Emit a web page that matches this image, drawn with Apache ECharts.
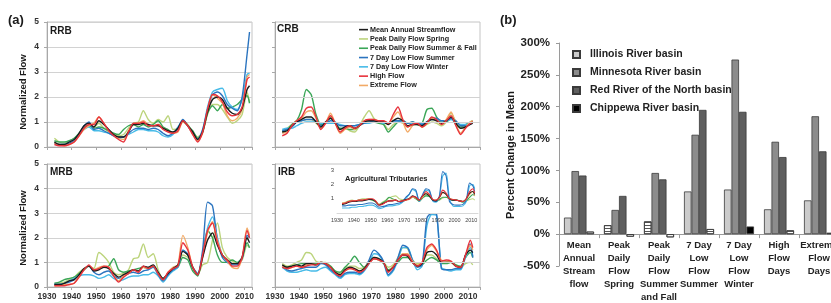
<!DOCTYPE html>
<html><head><meta charset="utf-8">
<script src="https://cdn.jsdelivr.net/npm/echarts@6/dist/echarts.min.js"></script>
<style>html,body{margin:0;padding:0;background:#fff}#c{width:831px;height:303px}</style>
</head><body><div id="c"></div>
<script>
const FONT = '"Liberation Sans",Arial,sans-serif';

// ---------- (a) time series ----------
const years = [1933,1935,1937,1939,1941,1943,1945,1947,1949,1951,1953,1955,1957,1959,1961,1963,1965,1967,1969,1971,1973,1975,1977,1979,1981,1983,1985,1987,1989,1991,1993,1995,1997,1999,2001,2003,2005,2007,2009,2011,2012];
const seriesNames = ['Mean Annual Streamflow','Peak Daily Flow Spring','Peak Daily Flow Summer & Fall','7 Day Low Flow Summer','7 Day Low Flow Winter','High Flow','Extreme Flow'];
const xTicks = [1930,1940,1950,1960,1970,1980,1990,2000,2010];
const panelTitles = ['RRB','CRB','MRB','IRB'];

// RRB
const rrbMean    = [0.2,0.1,0.1,0.2,0.3,0.55,0.85,0.95,0.8,1.05, 0.9,0.7,0.5,0.4,0.4,0.6,0.9,0.9,0.95,0.9, 0.85,0.85,0.75,0.65,0.6,0.75,1.05,0.85,0.6,0.3, 0.6,1.4,1.9,2.0,1.9,1.55,1.35,1.3,1.55,2.3, 2.45];
const rrbSpring  = [0.35,0.2,0.15,0.25,0.35,0.5,0.75,0.85,0.8,0.95, 0.75,0.6,0.5,0.45,0.5,0.75,0.95,1.0,1.45,1.1, 0.95,1.1,1.0,1.25,0.7,0.75,1.05,0.9,0.6,0.4, 0.6,1.3,1.7,1.7,1.5,1.2,0.95,1.05,1.3,2.2, 1.8];
const rrbSummer  = [0.25,0.2,0.2,0.25,0.35,0.55,0.8,0.85,0.75,0.8, 0.75,0.65,0.55,0.5,0.7,0.85,0.9,0.8,0.9,0.8, 0.9,1.05,0.8,0.7,0.55,0.75,1.05,0.85,0.65,0.35, 0.6,1.35,1.65,1.45,1.7,1.55,1.6,1.7,1.9,2.05, 1.75];
const rrbLowSum  = [0.15,0.1,0.1,0.15,0.25,0.5,0.85,1.0,0.7,0.75, 0.65,0.55,0.45,0.4,0.4,0.55,0.7,0.75,0.75,0.7, 0.75,0.7,0.55,0.45,0.55,0.75,1.1,0.85,0.55,0.3, 0.7,1.5,2.1,2.2,2.05,1.7,1.55,1.45,2.0,3.7, 4.6];
const rrbLowWin  = [0.15,0.1,0.1,0.2,0.3,0.5,0.7,0.8,0.65,0.65, 0.6,0.55,0.45,0.35,0.4,0.5,0.6,0.7,0.7,0.65, 0.65,0.6,0.45,0.4,0.5,0.8,1.05,0.85,0.55,0.3, 0.65,1.6,2.2,2.3,2.35,1.85,1.6,1.5,1.9,2.9, 2.95];
const rrbHigh    = [0.1,0.05,0.05,0.1,0.2,0.45,0.75,0.9,0.9,1.2, 0.95,0.65,0.45,0.3,0.2,0.6,0.95,0.95,1.0,0.85, 0.85,0.9,0.7,0.6,0.55,0.65,1.05,0.85,0.5,0.2, 0.6,1.5,2.1,2.05,1.8,1.4,1.25,1.3,1.6,2.7, 2.8];
const rrbExtreme = [0.15,0.1,0.05,0.1,0.2,0.45,0.7,0.85,0.95,1.2, 0.95,0.65,0.5,0.35,0.3,0.65,0.9,0.95,1.05,0.9, 0.85,0.9,0.75,0.65,0.55,0.6,1.0,0.85,0.5,0.25, 0.55,1.45,2.1,1.95,1.75,1.25,1.05,1.15,1.5,2.8, 2.9];

// CRB
const crbMean    = [0.6,0.65,0.85,1.0,1.1,1.2,1.2,1.0,0.8,1.0, 1.15,0.95,0.7,0.8,0.85,0.75,0.85,1.0,1.05,1.05, 1.0,1.0,0.9,1.05,1.15,1.05,0.85,0.9,0.9,0.85, 1.0,1.1,1.05,0.95,1.05,1.2,0.95,0.75,0.8,0.9, 0.95];
const crbSpring  = [0.65,0.75,0.9,1.05,1.05,1.1,1.1,0.95,0.8,1.0, 1.2,0.95,0.7,0.75,0.65,0.6,0.85,1.2,1.45,1.15, 1.0,0.95,0.7,0.9,1.0,0.95,0.8,0.9,0.9,0.8, 0.9,1.0,0.95,0.85,1.0,1.35,1.0,0.75,0.85,0.95, 1.0];
const crbSummer  = [0.6,0.7,0.9,1.05,1.5,2.3,2.1,1.3,0.9,1.0, 1.15,0.95,0.75,0.75,0.7,0.7,0.85,1.0,1.05,1.0, 0.95,0.9,0.6,0.8,1.0,1.05,0.95,1.0,0.9,0.95, 1.5,1.55,1.2,1.0,1.0,1.15,0.9,0.8,0.9,1.0, 1.05];
const crbLowSum  = [0.65,0.7,0.8,1.0,1.05,1.1,1.1,1.05,0.85,0.95, 1.05,1.0,0.85,0.85,0.85,0.85,0.9,0.95,1.0,1.05, 1.05,1.0,0.95,1.05,1.05,1.05,0.95,1.0,0.95,0.9, 1.0,1.15,1.15,1.05,1.05,1.15,1.05,0.85,0.85,0.95, 1.0];
const crbLowWin  = [0.7,0.75,0.75,0.85,0.95,1.0,1.0,1.0,0.95,0.95, 0.95,0.95,0.9,0.85,0.85,0.85,0.9,0.95,0.95,1.0, 1.0,0.95,0.95,1.0,1.0,1.0,0.95,0.95,0.95,0.95, 1.0,1.1,1.1,1.05,1.05,1.1,1.0,0.9,0.9,0.95, 1.0];
const crbHigh    = [0.45,0.55,0.85,1.05,1.2,1.55,1.6,1.2,0.7,0.95, 1.25,0.95,0.6,0.75,0.85,0.75,0.85,1.05,1.1,1.1, 1.05,1.05,0.95,1.3,1.6,1.1,0.8,0.9,0.95,0.8, 0.95,1.2,1.1,0.9,1.05,1.25,0.85,0.5,0.75,0.95, 1.0];
const crbExtreme = [0.55,0.6,0.85,1.05,1.15,1.4,1.45,1.15,0.75,0.95, 1.35,0.95,0.55,0.7,0.8,0.7,0.85,1.05,1.1,1.1, 1.05,1.05,0.9,1.2,1.4,1.0,0.6,0.85,0.95,0.8, 0.95,1.15,1.05,0.9,1.1,1.4,0.9,0.55,0.8,1.0, 1.05];

// MRB
const mrbMean    = [0.1,0.1,0.15,0.25,0.3,0.5,0.75,0.85,0.65,0.7, 0.8,0.75,0.55,0.4,0.5,0.6,0.7,0.65,0.85,0.8, 0.9,0.6,0.35,0.55,0.75,0.9,1.45,1.3,0.8,0.5, 1.2,1.9,2.2,1.7,1.3,1.1,0.95,0.95,1.2,2.0, 1.8];
const mrbSpring  = [0.1,0.15,0.2,0.3,0.4,0.6,0.75,0.85,0.75,1.4, 1.25,1.0,0.6,0.5,0.55,0.7,1.15,1.2,1.75,1.2, 1.35,0.7,0.3,0.55,0.75,0.9,1.3,1.2,0.8,0.5, 0.9,1.0,1.9,2.6,1.6,1.2,1.05,0.95,1.1,1.7, 1.6];
const mrbSummer  = [0.15,0.2,0.3,0.35,0.4,0.55,0.7,0.85,0.7,0.75, 0.8,0.85,1.15,0.7,0.6,0.65,0.7,0.75,0.8,0.75, 0.85,0.55,0.35,0.55,0.7,0.8,1.2,1.1,0.65,0.45, 1.3,2.3,2.0,1.3,1.0,1.0,1.1,1.0,1.2,1.8, 1.6];
const mrbLowSum  = [0.1,0.1,0.15,0.2,0.3,0.5,0.7,0.85,0.6,0.5, 0.6,0.65,0.45,0.35,0.45,0.55,0.6,0.55,0.65,0.7, 0.8,0.5,0.25,0.5,0.7,0.85,1.5,1.35,0.8,0.55, 1.5,3.45,3.3,1.9,1.2,1.0,0.9,0.9,1.15,2.1, 2.0];
const mrbLowWin  = [0.1,0.1,0.15,0.25,0.35,0.45,0.5,0.5,0.45,0.35, 0.4,0.5,0.35,0.25,0.3,0.4,0.45,0.45,0.5,0.5, 0.6,0.45,0.2,0.45,0.65,0.8,1.5,1.3,0.8,0.5, 1.3,2.4,2.85,2.0,1.3,1.1,0.95,0.95,1.2,2.1, 2.05];
const mrbHigh    = [0.05,0.05,0.05,0.1,0.15,0.4,0.7,0.9,0.7,0.75, 0.85,0.8,0.45,0.2,0.4,0.55,0.7,0.6,0.85,0.75, 0.85,0.55,0.3,0.6,0.75,0.85,1.8,1.5,0.8,0.5, 1.3,2.3,2.6,1.8,1.3,1.1,0.85,0.85,1.2,2.3, 2.0];
const mrbExtreme = [0.05,0.05,0.1,0.1,0.15,0.45,0.7,0.85,0.7,0.8, 0.85,0.8,0.45,0.25,0.45,0.55,0.7,0.65,0.8,0.75, 0.85,0.55,0.3,0.6,0.8,0.9,2.1,1.6,0.8,0.5, 1.2,2.2,2.65,1.9,1.3,1.05,0.8,0.75,1.2,2.4, 2.1];

// IRB
const irbMean    = [0.9,0.8,0.85,0.9,0.85,0.95,0.95,0.9,1.0,0.95, 0.8,0.6,0.5,0.7,0.8,0.75,0.65,0.75,1.0,1.2, 1.15,1.0,0.65,0.8,1.1,1.3,1.25,1.0,0.85,0.95, 1.4,1.45,1.3,1.0,1.0,1.0,0.85,0.8,1.3,1.5, 1.4];
const irbSpring  = [0.95,0.85,0.9,1.0,1.1,1.4,1.35,1.05,1.0,1.0, 0.85,0.65,0.55,0.75,0.85,0.85,0.75,0.8,1.05,1.2, 1.15,1.0,0.8,0.9,1.2,1.6,1.55,1.1,0.95,0.95, 1.3,1.3,1.15,1.0,1.0,1.0,0.9,0.8,0.95,1.0, 0.9];
const irbSummer  = [0.85,0.8,0.85,0.9,0.95,0.95,0.95,0.95,1.0,0.95, 0.85,0.65,0.6,0.8,1.0,1.25,1.0,0.8,1.0,1.15, 1.1,0.95,0.7,0.8,1.0,1.2,1.2,1.0,0.85,0.9, 1.1,1.2,1.1,0.95,0.95,1.0,0.9,0.85,1.2,1.4, 1.2];
const irbLowSum  = [0.85,0.7,0.65,0.7,0.75,0.8,0.8,0.8,0.95,0.9, 0.7,0.55,0.4,0.55,0.6,0.6,0.55,0.7,1.1,1.5, 1.35,1.05,0.5,0.7,1.2,1.7,1.6,1.1,0.8,0.9, 2.8,3.0,2.95,0.75,0.7,0.7,0.75,0.75,1.3,1.75, 1.2];
const irbLowWin  = [0.8,0.65,0.6,0.6,0.65,0.7,0.65,0.65,0.75,0.8, 0.65,0.5,0.35,0.5,0.55,0.55,0.5,0.65,0.95,1.35, 1.3,1.0,0.45,0.65,1.1,1.6,1.6,1.1,0.7,0.85, 2.5,2.95,2.9,0.8,0.7,0.65,0.7,0.7,1.2,1.6, 1.25];
const irbHigh    = [0.8,0.75,0.8,0.85,0.8,0.85,0.9,0.9,1.0,0.95, 0.8,0.55,0.45,0.65,0.75,0.7,0.6,0.7,0.95,1.15, 1.1,1.0,0.6,0.8,1.1,1.3,1.3,1.0,0.85,1.0, 1.6,1.75,1.5,1.05,1.1,1.05,0.85,0.8,1.3,1.9, 1.6];
const irbExtreme = [0.85,0.75,0.8,0.85,0.8,0.9,0.95,0.9,1.0,0.95, 0.8,0.6,0.5,0.65,0.75,0.75,0.65,0.75,1.0,1.15, 1.1,1.0,0.65,0.85,1.1,1.35,1.35,1.05,0.9,1.0, 1.5,1.7,1.45,1.1,1.05,1.0,0.85,0.8,1.3,1.7, 1.5];

// Agricultural Tributaries (inset)
const agMean    = [0.6,0.65,0.75,0.8,0.8,0.85,0.85,0.9,0.95,0.95, 0.8,0.55,0.65,0.75,0.85,0.85,0.9,0.8,0.85,0.95, 1.0,1.2,1.1,0.9,1.2,1.35,1.2,0.9,0.85,1.1, 1.45,1.3,1.0,0.9,0.9,0.85,0.8,1.0,1.4,1.5, 1.3];
const agSpring  = [0.7,0.75,0.85,0.9,0.85,0.9,1.0,1.0,1.0,0.95, 0.8,0.6,0.75,0.9,1.05,1.15,1.2,1.0,0.95,0.95, 1.0,1.1,1.0,0.85,1.1,1.25,1.2,0.95,0.85,0.9, 1.05,1.1,1.0,0.95,0.9,0.85,0.8,0.85,0.95,1.0, 0.9];
const agSummer  = [0.6,0.7,0.8,0.85,0.85,0.9,0.9,0.95,0.95,0.9, 0.8,0.6,0.7,0.85,1.1,1.0,0.9,0.8,0.8,0.9, 1.0,1.1,1.0,0.8,1.05,1.2,1.15,0.9,0.8,0.95, 1.1,1.1,1.0,0.9,0.9,0.85,0.75,0.85,1.1,1.3, 1.2];
const agLowSum  = [0.5,0.5,0.55,0.55,0.55,0.6,0.6,0.65,0.7,0.7, 0.6,0.4,0.45,0.5,0.6,0.6,0.65,0.7,0.8,1.1, 1.3,1.7,1.6,0.85,1.3,1.7,1.6,0.9,0.8,1.2, 2.9,2.6,0.8,0.6,0.55,0.55,0.6,0.9,2.1,1.9, 1.5];
const agLowWin  = [0.35,0.35,0.35,0.4,0.4,0.45,0.45,0.5,0.55,0.55, 0.45,0.3,0.35,0.45,0.5,0.5,0.55,0.6,0.75,1.0, 1.3,1.65,1.5,0.8,1.2,1.6,1.5,0.85,0.75,1.1, 2.6,2.8,1.0,0.5,0.45,0.45,0.5,0.8,1.9,2.0, 1.7];
const agHigh    = [0.65,0.7,0.8,0.85,0.85,0.9,0.9,0.95,1.0,1.0, 0.85,0.55,0.6,0.75,0.85,0.85,0.9,0.8,0.85,0.9, 1.0,1.15,1.1,0.9,1.2,1.5,1.3,0.95,0.9,1.1, 1.6,1.4,1.0,0.95,0.9,0.85,0.8,1.0,1.5,1.7, 1.4];
const agExtreme = [0.7,0.7,0.8,0.85,0.85,0.9,0.9,0.95,0.95,0.95, 0.85,0.6,0.65,0.75,0.85,0.9,0.9,0.8,0.85,0.9, 0.95,1.1,1.05,0.9,1.1,1.4,1.25,0.95,0.9,1.05, 1.4,1.3,1.0,0.95,0.9,0.85,0.8,0.95,1.3,1.5, 1.2];

// ---------- (b) bar chart ----------
const barCategories = ['Mean\nAnnual\nStream\nflow','Peak\nDaily\nFlow\nSpring','Peak\nDaily\nFlow\nSummer\nand Fall','7 Day\nLow\nFlow\nSummer','7 Day\nLow\nFlow\nWinter','High\nFlow\nDays','Extreme\nFlow\nDays'];
const basinNames = ['Illinois River basin','Minnesota River basin','Red River of the North basin','Chippewa River basin'];
const illinois  = [26, 14, 20, 67, 70, 39, 53];
const minnesota = [99, 38, 96, 156, 274, 145, 185];
const redRiver  = [92, 60, 86, 195, 192, 121, 130];
const chippewa  = [4, -4, -5, 8, 12, 6, 2];
const pctTicks  = [-50, 0, 50, 100, 150, 200, 250, 300];

// ---------- styling ----------
const lineColors = ['#1c1c1c','#bcd47c','#3aa657','#2b74bf','#47bbe8','#e8323c','#f2aa66'];
const drawOrder = [1,2,4,3,6,0,5];
const barColors = ['#cbcbcb','#8c8c8c','#5f5f5f','#000000'];
const illinoisHatched = [1,2];
const chippewaHatched = [0,1,2,3,5,6];
const stripes = {symbol:'rect', symbolSize:1, color:'#555', dashArrayX:[1,0], dashArrayY:[1,2], rotation:0};

const panelData = [
  [rrbMean,rrbSpring,rrbSummer,rrbLowSum,rrbLowWin,rrbHigh,rrbExtreme],
  [crbMean,crbSpring,crbSummer,crbLowSum,crbLowWin,crbHigh,crbExtreme],
  [mrbMean,mrbSpring,mrbSummer,mrbLowSum,mrbLowWin,mrbHigh,mrbExtreme],
  [irbMean,irbSpring,irbSummer,irbLowSum,irbLowWin,irbHigh,irbExtreme],
  [agMean,agSpring,agSummer,agLowSum,agLowWin,agHigh,agExtreme]
];
const panelLayout = [
  {left:47, top:22, width:205, height:125, xmax:2013, yl:true,  xl:false, full:true},
  {left:275,top:22, width:205, height:125, xmax:2015, yl:false, xl:false, full:false},
  {left:47, top:164,width:205, height:123, xmax:2013, yl:true,  xl:true,  full:true},
  {left:275,top:164,width:205, height:123, xmax:2015, yl:false, xl:true,  full:false}
];

const grids = [], xAxes = [], yAxes = [], series = [];
const axisGray = '#a8a8a8';
panelLayout.forEach((p, i) => {
  grids.push({left:p.left, top:p.top, width:p.width, height:p.height, show:true, borderColor:'#c4c4c4', borderWidth:1,
    backgroundColor:'transparent', containLabel:false, outerBoundsMode:'none'});
  xAxes.push({gridIndex:i, type:'value', min:1930, max:p.xmax, interval:10,
    axisLine:{show:true, lineStyle:{color:axisGray}},
    axisTick:{show:true, length:3, lineStyle:{color:axisGray}},
    axisLabel:{show:p.xl, margin:5, fontFamily:FONT, fontWeight:'bold', fontSize:8.5, color:'#333',
      formatter: v => (xTicks.indexOf(v) >= 0 ? String(v) : '')},
    splitLine:{show:false}});
  yAxes.push({gridIndex:i, type:'value', min:0, max:5, interval:1,
    axisLine:{show:true, lineStyle:{color:axisGray}},
    axisTick:{show:true, length:3, lineStyle:{color:axisGray}},
    axisLabel:{show:p.yl, margin:8, fontFamily:FONT, fontWeight:'bold', fontSize:8.5, color:'#333'},
    splitLine:{show:p.full, lineStyle:{color:'#d2d2d2', width:1}}});
});
// inset grid (index 4)
grids.push({left:337, top:168, width:141, height:45, show:true, backgroundColor:'#ffffff', borderWidth:0, z:3,
  containLabel:false, outerBoundsMode:'none'});
xAxes.push({gridIndex:4, type:'value', min:1930, max:2014, interval:10, z:4,
  axisLine:{show:true, lineStyle:{color:'#d8d8d8'}}, axisTick:{show:false},
  axisLabel:{show:true, margin:4, fontFamily:FONT, fontSize:5.5, color:'#444',
    formatter: v => (xTicks.indexOf(v) >= 0 ? String(v) : '')},
  splitLine:{show:false}});
yAxes.push({gridIndex:4, type:'value', min:0, max:3.15, interval:1, z:4,
  axisLine:{show:false}, axisTick:{show:false},
  axisLabel:{show:true, margin:3, fontFamily:FONT, fontSize:6, color:'#444',
    formatter: v => (v >= 1 && v <= 3 ? String(v) : '')},
  splitLine:{show:false}});

for (let pi = 0; pi < 5; pi++) {
  drawOrder.forEach((si, k) => {
    const s = {
      name: seriesNames[si], type:'line', xAxisIndex:pi, yAxisIndex:pi,
      data: years.map((y, j) => [y, panelData[pi][si][j]]),
      symbol:'none', smooth:0.25,
      lineStyle:{width: pi === 4 ? 1.1 : 1.4, color: lineColors[si]},
      itemStyle:{color: lineColors[si]},
      z: pi === 4 ? 5 : 2
    };
    if (k === 0 && (pi === 1 || pi === 3)) {
      s.markLine = {silent:true, symbol:'none', label:{show:false}, animation:false,
        lineStyle:{color:'#d2d2d2', type:'solid', width:1},
        data:[{yAxis:1},{yAxis:2}]};
    }
    series.push(s);
  });
}

// bar grid (index 5)
grids.push({left:559, top:43, width:280, height:223, show:false, containLabel:false, outerBoundsMode:'none'});
xAxes.push({gridIndex:5, type:'category', data:barCategories,
  axisLine:{show:true, onZero:true, lineStyle:{color:'#9a9a9a'}},
  axisTick:{show:true, length:4, lineStyle:{color:'#9a9a9a'}},
  axisLabel:{interval:0, margin:-27, fontFamily:FONT, fontWeight:'bold', fontSize:9.5, lineHeight:13, color:'#222'}});
yAxes.push({gridIndex:5, type:'value', min:pctTicks[0], max:pctTicks[pctTicks.length-1], interval:50,
  axisLine:{show:true, lineStyle:{color:'#9a9a9a'}},
  axisTick:{show:true, length:3, lineStyle:{color:'#9a9a9a'}},
  axisLabel:{margin:9, fontFamily:FONT, fontWeight:'bold', fontSize:11.5, color:'#222', formatter:'{value}%'},
  splitLine:{show:false}});

const barSets = [illinois, minnesota, redRiver, chippewa];
barSets.forEach((vals, bi) => {
  series.push({
    name: basinNames[bi], type:'bar', xAxisIndex:5, yAxisIndex:5,
    barGap:'0%', barCategoryGap:'25%',
    itemStyle:{color:barColors[bi], borderColor:'#3a3a3a', borderWidth:0.8},
    data: vals.map((v, j) => {
      const hatched = (bi === 0 && illinoisHatched.indexOf(j) >= 0) || (bi === 3 && chippewaHatched.indexOf(j) >= 0);
      return hatched ? {value:v, itemStyle:{color:'#ffffff', decal:stripes}} : v;
    })
  });
});

const txt = (t, x, y, size) => ({type:'text', x:x, y:y, z:10,
  style:{text:t, fontFamily:FONT, fontWeight:'bold', fontSize:size, fill:'#1a1a1a', textAlign:'left', textVerticalAlign:'middle'}});
const rot = (t, x, y, size) => ({type:'text', x:x, y:y, rotation:Math.PI/2, z:10,
  style:{text:t, fontFamily:FONT, fontWeight:'bold', fontSize:size, fill:'#1a1a1a', textAlign:'center', textVerticalAlign:'middle'}});

const option = {
  animation:false,
  backgroundColor:'#ffffff',
  grid: grids, xAxis: xAxes, yAxis: yAxes, series: series,
  legend: [
    {data: seriesNames, orient:'vertical', left:359, top:25, padding:0, itemWidth:9, itemHeight:1.6, itemGap:0, icon:'rect',
      textStyle:{fontFamily:FONT, fontWeight:'bold', fontSize:7.2, lineHeight:9.3, color:'#222', padding:[0,0,0,-3]}, selectedMode:false},
    {data: basinNames, orient:'vertical', left:572, top:48, padding:0, itemWidth:7, itemHeight:7, itemGap:5, icon:'rect',
      textStyle:{fontFamily:FONT, fontWeight:'bold', fontSize:10.5, lineHeight:13, color:'#222', padding:[0,0,0,5]}, selectedMode:false}
  ],
  graphic: [
    txt('(a)', 8, 20, 13),
    txt('(b)', 500, 20, 13),
    txt(panelTitles[0], 50, 31, 10),
    txt(panelTitles[1], 277, 29, 10),
    txt(panelTitles[2], 50, 172, 10),
    txt(panelTitles[3], 278, 172, 10),
    txt('Agricultural Tributaries', 345, 179, 7.5),
    rot('Normalized Flow', 23, 92, 9.5),
    rot('Normalized Flow', 23, 228, 9.5),
    rot('Percent Change in Mean', 511, 155, 11)
  ]
};
const chart = echarts.init(document.getElementById('c'));
chart.setOption(option);
</script>
</body></html>
